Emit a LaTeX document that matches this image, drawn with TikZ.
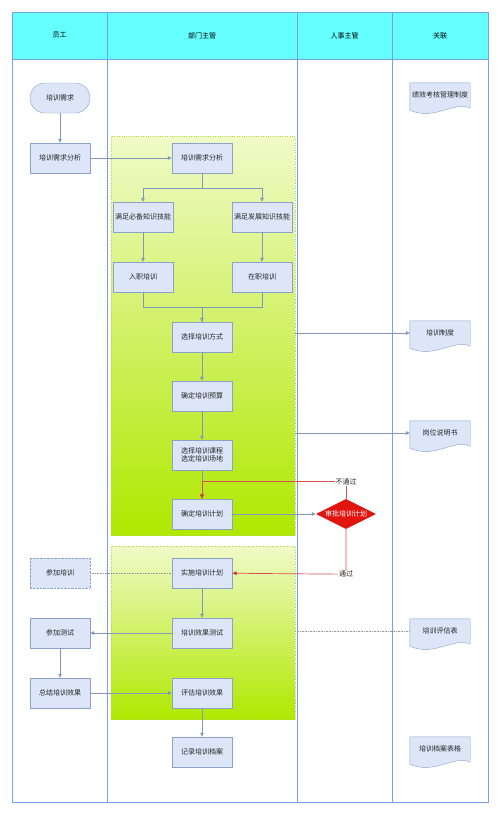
\documentclass[tikz,border=0pt]{standalone}
\usepackage{fontspec}
\setmainfont{Noto Sans CJK SC}
\usetikzlibrary{arrows.meta,shapes.geometric}
\definecolor{headfill}{RGB}{102,255,255}
\definecolor{laneline}{RGB}{120,160,240}
\definecolor{boxfill}{RGB}{220,230,248}
\definecolor{boxline}{RGB}{140,162,200}
\definecolor{flowline}{RGB}{130,150,190}
\definecolor{grptop}{RGB}{240,250,200}
\definecolor{grpbot}{RGB}{176,232,0}
\definecolor{grpline}{RGB}{185,212,80}
\definecolor{auditred}{RGB}{225,20,15}
\definecolor{noline}{RGB}{215,80,80}
\definecolor{notip}{RGB}{160,40,0}
\pgfdeclarelayer{back}
\pgfsetlayers{back,main}

\begin{document}
\begin{tikzpicture}[x=1pt,y=-1pt,
  font=\fontsize{7}{8.5}\selectfont,
  head/.style={draw=laneline,fill=headfill,line width=.6pt,inner sep=0pt},
  lane/.style={draw=laneline,line width=.6pt},
  group/.style={draw=grpline,dotted,top color=grptop,bottom color=grpbot,inner sep=0pt},
  task/.style={rectangle,draw=boxline,fill=boxfill,minimum width=60pt,minimum height=30pt,inner sep=1pt,align=center,text=black!85},
  start/.style={task,rounded corners=15pt},
  ghost/.style={task,densely dotted},
  doc/.style={minimum width=60pt,minimum height=24pt,inner sep=0pt,text=black!85},
  docline/.style={draw=boxline,fill=boxfill},
  audit/.style={diamond,aspect=2,fill=auditred,minimum width=60pt,minimum height=30pt,inner sep=0pt,text=white},
  flow/.style={draw=flowline,line width=.6pt,-{Triangle[length=4pt,width=3.5pt]}},
  link/.style={draw=flowline,line width=.6pt},
  dotline/.style={draw=black!40,densely dotted,line width=.6pt},
  nopath/.style={draw=noline,line width=.7pt,-{Triangle[length=4.5pt,width=4pt,fill=notip]}},
  tag/.style={fill=white,inner sep=1pt,text=black!85}
]
\useasboundingbox (0,0) rectangle (500,815);

\node[head,minimum width=95pt,minimum height=47pt] (h1) at (59.5,35.5) {员工};
\node[head,minimum width=190pt,minimum height=47pt] (h2) at (202,35.5) {部门主管};
\node[head,minimum width=95pt,minimum height=47pt] (h3) at (344.5,35.5) {人事主管};
\node[head,minimum width=96pt,minimum height=47pt] (h4) at (440,35.5) {关联};
\draw[lane] (12,59) rectangle (107,802);
\draw[lane] (107,59) rectangle (297,802);
\draw[lane] (297,59) rectangle (392,802);
\draw[lane] (392,59) rectangle (488,802);

\node[group,minimum width=184pt,minimum height=399pt] (grpA) at (203,335.5) {};
\node[group,minimum width=184pt,minimum height=173pt] (grpB) at (203,632.5) {};

\node[start] (need) at (60,98) {培训需求};
\node[task] (empana) at (60,158) {培训需求分析};
\node[task] (depana) at (202,158) {培训需求分析};
\node[task] (basic) at (143,217) {满足必备知识技能};
\node[task] (devel) at (262,217) {满足发展知识技能};
\node[task] (entry) at (143,277) {入职培训};
\node[task] (onjob) at (262,277) {在职培训};
\node[task] (method) at (202,337) {选择培训方式};
\node[task] (budget) at (202,396) {确定培训预算};
\node[task] (course) at (202,455) {选择培训课程\\选定培训场地};
\node[task] (plan) at (202,514) {确定培训计划};
\node[audit] (check) at (346,514) {审批培训计划};
\node[task] (act) at (202,573) {实施培训计划};
\node[ghost] (join) at (60,573) {参加培训};
\node[task] (test) at (202,633) {培训效果测试};
\node[task] (emptest) at (60,633) {参加测试};
\node[task] (summ) at (60,693) {总结培训效果};
\node[task] (assess) at (202,693) {评估培训效果};
\node[task] (record) at (202,752) {记录培训档案};

\node[doc] (kpi) at (440,95) {绩效考核管理制度};
\node[doc] (sys) at (440,333) {培训制度};
\node[doc] (post) at (440,433) {岗位说明书};
\node[doc] (evalf) at (440,631) {培训评估表};
\node[doc] (arch) at (440,749) {培训档案表格};

\begin{pgfonlayer}{back}
\foreach \d in {kpi,sys,post,evalf,arch}
  \draw[docline] (\d.north west) -- (\d.north east) -- ([shift={(0,1)}]\d.south east)
    .. controls ([shift={(-15,-7)}]\d.south east) and ([shift={(25,14)}]\d.south west) .. ([shift={(0,3)}]\d.south west) -- cycle;
\end{pgfonlayer}

\draw[flow] (need) -- (empana);
\draw[flow] (empana) -- (depana);
\draw[flow] (depana.south) -- ++(0,15) -| (basic);
\draw[flow] (depana.south) -- ++(0,15) -| (devel);
\draw[flow] (basic) -- (entry);
\draw[flow] (devel) -- (onjob);
\draw[flow] (entry.south) -- ++(0,15) -| (method);
\draw[link] (onjob.south) -- ++(0,15) -| (method);
\draw[flow] (method) -- (budget);
\draw[flow] (budget) -- (course);
\draw[flow] (course) -- (plan);
\draw[flow] (grpA.east |- sys.west) -- (sys);
\draw[flow] (grpA.east |- post.west) -- (post);
\draw[flow] (plan) -- (check);
\draw[nopath] (check.north) -- ++(0,-17) node[tag] {不通过} -| (plan);
\draw[nopath] (check.south) -- ++(0,45) node[tag] {通过} -- (act);
\draw[dotline] (join) -- (act);
\draw[flow] (act) -- (test);
\draw[flow] (test) -- (emptest);
\draw[dotline] (grpB.east |- evalf.west) -- (evalf);
\draw[flow] (emptest) -- (summ);
\draw[flow] (summ) -- (assess);
\draw[flow] (assess) -- (record);
\end{tikzpicture}
\end{document}
